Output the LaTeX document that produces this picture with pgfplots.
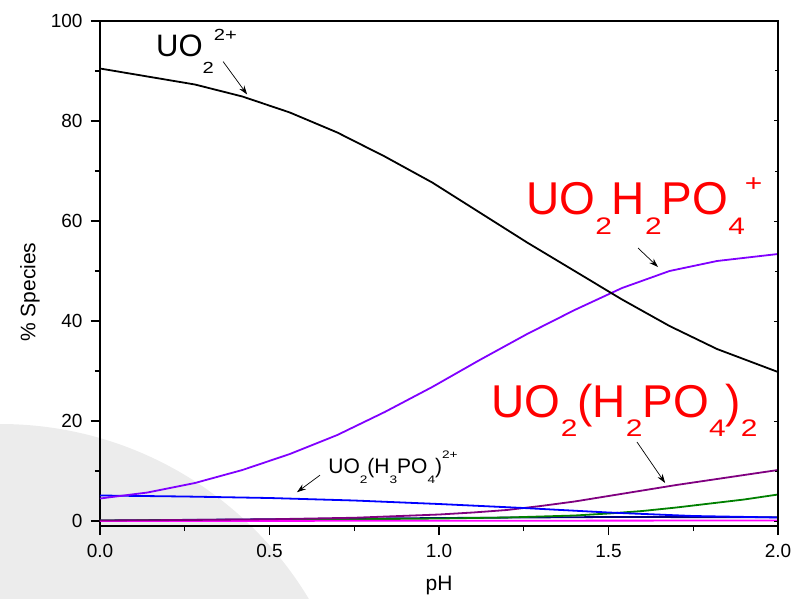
\documentclass[border=0pt]{standalone}
\usepackage{fontspec}
\setmainfont{Liberation Sans}
\usepackage{graphicx}
\usepackage{pgfplots}
\pgfplotsset{compat=1.18}
\usetikzlibrary{arrows.meta}
\definecolor{cviolet}{RGB}{128,0,255}
\definecolor{cblue}{RGB}{0,0,255}
\definecolor{cpurple}{RGB}{128,0,128}
\definecolor{cgreen}{RGB}{0,128,0}
\definecolor{cnavy}{RGB}{0,0,128}
\definecolor{cmagenta}{RGB}{255,0,255}
\definecolor{cred}{RGB}{255,0,0}
\definecolor{bggray}{RGB}{236,236,236}
\newcommand{\sbs}[2][-0.43em]{\raisebox{#1}{\scalebox{0.65}[0.52]{#2}}}
\newcommand{\sps}[2][0.5em]{\raisebox{#1}{\scalebox{0.65}[0.52]{#2}}}
\begin{document}
\begin{tikzpicture}
\useasboundingbox (-100pt,-72pt) rectangle (691pt,526pt);
\begin{scope}
\clip (-100pt,-72pt) rectangle (691pt,526pt);
\fill[bggray] (-100pt,-258pt) circle (360pt);
\end{scope}
\begin{axis}[
  scale only axis, width=678pt, height=505pt,
  xmin=0, xmax=2, ymin=-1, ymax=100,
  xtick={0,0.5,1,1.5,2}, ytick={0,20,40,60,80,100},
  minor x tick num=1, minor y tick num=1,
  tick align=outside, xtick pos=left, ytick pos=left,
  major tick length=9pt, minor tick length=5pt,
  axis line style={line width=1.3pt},
  every tick/.style={line width=1.3pt, black},
  x tick label style={yshift=-6pt, /pgf/number format/.cd, fixed, fixed zerofill, precision=1},
  y tick label style={xshift=-5pt},
  /pgf/number format/assume math mode=true,
  tick label style={font=\fontsize{19}{19}\selectfont},
  xlabel={pH}, ylabel={\% Species},
  every axis x label/.style={at={(axis description cs:0.5,0)}, yshift=-59pt, anchor=center, font=\fontsize{21}{21}\selectfont},
  every axis y label/.style={at={(axis description cs:0,0.463)}, xshift=-70pt, rotate=90, anchor=center, font=\fontsize{21}{21}\selectfont},
  every axis plot/.append style={line width=1.8pt},
]
% minor species
\addplot[cnavy] coordinates {(0,0.1) (0.5,0.35) (1.0,0.6) (1.5,0.8) (2.0,0.75)};
\addplot[cgreen] coordinates {(0,0.1) (0.5,0.2) (1.0,0.5) (1.2,0.7) (1.4,1.1) (1.5,1.5) (1.6,2.0) (1.7,2.7) (1.8,3.5) (1.9,4.3) (2.0,5.3)};
\addplot[cmagenta] coordinates {(0,0.0) (1.0,0.05) (2.0,0.1)};
% UO2(H2PO4)2
\addplot[cpurple] coordinates {(0,0.1) (0.25,0.2) (0.5,0.35) (0.75,0.65) (1.0,1.3) (1.1,1.7) (1.2,2.2) (1.3,3.0) (1.4,3.9) (1.5,5.0) (1.6,6.1) (1.7,7.2) (1.8,8.2) (1.9,9.2) (2.0,10.2)};
% UO2(H3PO4)2+
\addplot[cblue] coordinates {(0,5.1) (0.25,4.9) (0.5,4.6) (0.75,4.1) (1.0,3.4) (1.25,2.6) (1.5,1.7) (1.75,1.0) (2.0,0.7)};
% UO2H2PO4+
\addplot[cviolet] coordinates {(0,4.5) (0.14,5.7) (0.28,7.6) (0.42,10.2) (0.56,13.4) (0.70,17.2) (0.84,21.8) (0.98,26.8) (1.12,32.2) (1.26,37.4) (1.40,42.2) (1.54,46.6) (1.68,50.0) (1.82,52.0) (2.0,53.4)};
% UO2 2+
\addplot[black] coordinates {(0,90.5) (0.14,88.9) (0.28,87.3) (0.42,84.9) (0.56,81.7) (0.70,77.7) (0.84,72.9) (0.98,67.7) (1.12,61.7) (1.26,55.7) (1.40,50.0) (1.54,44.3) (1.68,39.0) (1.82,34.4) (2.0,29.8)};
% annotations
\node[anchor=base west, inner sep=0pt, font=\fontsize{31}{31}\selectfont] at (axis cs:0.165,92.9) {UO\sbs[-0.55em]{2}\sps[0.52em]{2+}};
\draw[-{Stealth[length=9pt,width=6pt]}, line width=0.7pt] (axis cs:0.363,91.9) -- (axis cs:0.434,85.3);
\node[anchor=base west, inner sep=0pt, text=cred, font=\fontsize{46}{46}\selectfont] at (axis cs:1.257,61.3) {UO\sbs{2}H\sbs{2}PO\sbs{4}\sps{+}};
\draw[-{Stealth[length=9pt,width=6pt]}, line width=0.7pt] (axis cs:1.587,54.6) -- (axis cs:1.646,50.8);
\node[anchor=base west, inner sep=0pt, text=cred, font=\fontsize{46}{46}\selectfont] at (axis cs:1.155,20.8) {UO\sbs{2}(H\sbs{2}PO\sbs{4})\sbs{2}};
\draw[-{Stealth[length=9pt,width=6pt]}, line width=0.7pt] (axis cs:1.584,15.8) -- (axis cs:1.667,7.6);
\node[anchor=base west, inner sep=0pt, font=\fontsize{21}{21}\selectfont] at (axis cs:0.673,9.56) {UO\sbs[-0.48em]{2}(H\sbs[-0.48em]{3}PO\sbs[-0.48em]{4})\sps[0.7em]{2+}};
\draw[-{Stealth[length=9pt,width=6pt]}, line width=0.7pt] (axis cs:0.649,9.17) -- (axis cs:0.581,5.76);
\end{axis}
\begin{axis}[
  scale only axis, width=678pt, height=505pt,
  xmin=0, xmax=2, ymin=-1, ymax=100,
  hide x axis, axis y line*=right, axis line style={line width=1.3pt},
  ytick={0,20,40,60,80,100}, minor y tick num=1, yticklabels={},
  tick align=inside, major tick length=4pt, minor tick length=3pt,
  every tick/.style={line width=1pt, black},
]
\end{axis}
\end{tikzpicture}
\end{document}
